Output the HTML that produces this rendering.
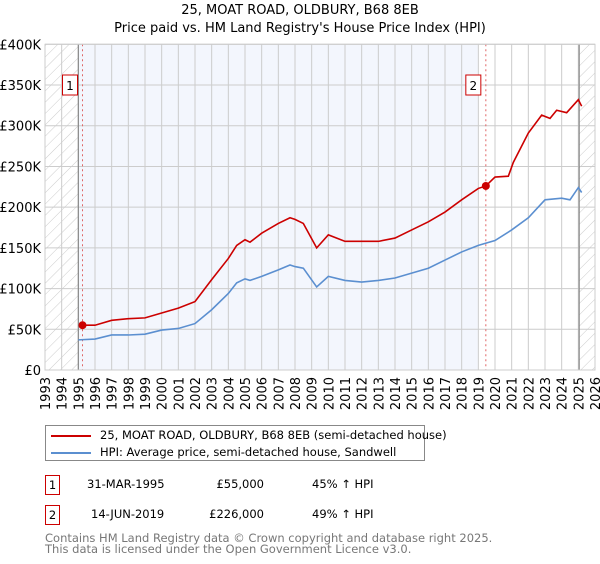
<!DOCTYPE html>
<html><head><meta charset="utf-8"><style>
body{margin:0;background:#fff;font-family:"DejaVu Sans","Liberation Sans",sans-serif;}
svg text{font-family:"DejaVu Sans","Liberation Sans",sans-serif;}
</style></head><body>
<svg width="600" height="560" xmlns="http://www.w3.org/2000/svg">
<defs><pattern id="hatch" width="8" height="8" patternUnits="userSpaceOnUse" patternTransform="rotate(45)"><line x1="0" y1="0" x2="0" y2="8" stroke="#ccc" stroke-width="1"/></pattern></defs>
<g id="root"></g>
</svg>
<script>
const redT=[1995.25,1996,1997,1998,1999,2000,2001,2002,2003,2004,2004.5,2005,2005.3,2006,2007,2007.7,2008,2008.5,2009.3,2010,2011,2012,2013,2014,2015,2016,2017,2018,2019,2019.45,2020,2020.8,2021.1,2022,2022.8,2023.3,2023.7,2024.3,2025,2025.2];
const redV=[55,55,61,63,64,70,76,84,111,137,153,160,157,168,180,187,185,180,150,166,158,158,158,162,172,182,194,209,223,226,237,238,255,291,313,309,319,316,332,324];
const hpiT=[1995,1996,1997,1998,1999,2000,2001,2002,2003,2004,2004.5,2005,2005.3,2006,2007,2007.7,2008,2008.5,2009.3,2010,2011,2012,2013,2014,2015,2016,2017,2018,2019,2020,2021,2022,2023,2024,2024.5,2025,2025.2];
const hpiV=[37,38,43,43,44,49,51,57,74,94,107,112,110,115,123,129,127,125,102,115,110,108,110,113,119,125,135,145,153,159,172,187,209,211,209,224,218];
const yTicks=[0,50,100,150,200,250,300,350,400];
const yLabels=["£0","£50K","£100K","£150K","£200K","£250K","£300K","£350K","£400K"];
const sales=[[1995.25,55,"1"],[2019.45,226,"2"]];
const X0=45,X1=595,T0=1993,T1=2026,Y0=370,Y1=44.3;
const sx=t=>X0+(t-T0)/(T1-T0)*(X1-X0);
const sy=v=>Y0-v/400*(Y0-Y1);
const NS="http://www.w3.org/2000/svg";
const root=document.getElementById('root');
function el(tag,attrs,parent){const e=document.createElementNS(NS,tag);for(const k in attrs)e.setAttribute(k,attrs[k]);(parent||root).appendChild(e);return e;}
let r;
r=el('rect',{x:X0,y:Y1,width:X1-X0,height:Y0-Y1,fill:'#fff'});
r=el('rect',{x:sx(1995.05),y:Y1,width:sx(2018.97)-sx(1995.05),height:Y0-Y1,fill:'#f3f6fd'});


r=el('rect',{x:X0,y:Y1,width:sx(1995)-X0,height:Y0-Y1,fill:'url(#hatch)'});


r=el('rect',{x:sx(2025.05),y:Y1,width:X1-sx(2025.05),height:Y0-Y1,fill:'url(#hatch)'});


for(let y=T0;y<=T1;y++){
 el('line',{x1:sx(y),x2:sx(y),y1:Y1,y2:Y0,stroke:'#ccc','stroke-width':1});
 const t=el('text',{x:0,y:0,'font-size':13,fill:'#000','text-anchor':'end',transform:`translate(${sx(y)+5},${Y0+7}) rotate(-90)`});
 t.textContent=y;
 
 
}
yTicks.forEach((v,i)=>{
 el('line',{x1:X0,x2:X1,y1:sy(v),y2:sy(v),stroke:'#ccc','stroke-width':1});
 const t=el('text',{x:X0-4,y:sy(v)+5,'font-size':13,'text-anchor':'end',fill:'#000'});
 t.textContent=yLabels[i];
 
 
});
el('line',{x1:sx(1995),x2:sx(1995),y1:Y1,y2:Y0,stroke:'#888','stroke-width':1.2});
el('line',{x1:sx(2025.05),x2:sx(2025.05),y1:Y1,y2:Y0,stroke:'#888','stroke-width':1.2});
sales.forEach(s=>{
 const l=el('line',{x1:sx(s[0]),x2:sx(s[0]),y1:Y1,y2:Y0,stroke:'#e06666','stroke-width':1,'stroke-dasharray':'2,3'});
 
 
});
const hp=el('polyline',{points:hpiT.map((t,i)=>sx(t)+','+sy(hpiV[i])).join(' '),fill:'none',stroke:'#5b8fd0','stroke-width':1.6});


const rp=el('polyline',{points:redT.map((t,i)=>sx(t)+','+sy(redV[i])).join(' '),fill:'none',stroke:'#cc0000','stroke-width':1.6});


sales.forEach(s=>{
 const c=el('circle',{cx:sx(s[0]),cy:sy(s[1]),r:4,fill:'#cc0000'});
 
 
 const bx=sx(s[0])-12;
 const b=el('rect',{x:bx-8,y:75,width:15,height:20,fill:'#fff',stroke:'#cc0000','stroke-width':1});
 
 
 const t=el('text',{x:bx-0.5,y:90,'font-size':12,'text-anchor':'middle'});t.textContent=s[2];
});
el('rect',{x:X0,y:Y1,width:X1-X0,height:Y0-Y1,fill:'none',stroke:'#ccc'});
</script>
<div style="position:absolute;left:0;top:2px;width:600px;text-align:center;font-size:13px;line-height:18px;">25, MOAT ROAD, OLDBURY, B68 8EB<br>Price paid vs. HM Land Registry's House Price Index (HPI)</div>
<div style="position:absolute;left:45px;top:425px;width:378px;height:34px;border:1px solid #888;font-size:11.5px;">
 <div style="position:absolute;left:5px;top:2px;white-space:nowrap;"><span style="display:inline-block;width:40px;height:2px;background:#cc0000;vertical-align:middle;margin-right:9px;"></span>25, MOAT ROAD, OLDBURY, B68 8EB (semi-detached house)</div>
 <div style="position:absolute;left:5px;top:19px;white-space:nowrap;"><span style="display:inline-block;width:40px;height:2px;background:#5b8fd0;vertical-align:middle;margin-right:9px;"></span>HPI: Average price, semi-detached house, Sandwell</div>
</div>
<div style="font-size:11.5px;">
 <div style="position:absolute;left:45px;top:475px;width:13px;height:18px;border:1px solid #cc0000;text-align:center;line-height:18px;">1</div>
 <div style="position:absolute;left:87px;top:477px;">31-MAR-1995</div>
 <div style="position:absolute;left:184px;top:477px;width:80px;text-align:right;">£55,000</div>
 <div style="position:absolute;left:312px;top:477px;">45% ↑ HPI</div>
 <div style="position:absolute;left:45px;top:505px;width:13px;height:18px;border:1px solid #cc0000;text-align:center;line-height:18px;">2</div>
 <div style="position:absolute;left:91px;top:507px;">14-JUN-2019</div>
 <div style="position:absolute;left:184px;top:507px;width:80px;text-align:right;">£226,000</div>
 <div style="position:absolute;left:312px;top:507px;">49% ↑ HPI</div>
</div>
<div style="position:absolute;left:45px;top:533px;font-size:11.5px;color:#777;line-height:11px;white-space:nowrap;">Contains HM Land Registry data © Crown copyright and database right 2025.<br>This data is licensed under the Open Government Licence v3.0.</div>
</body></html>
